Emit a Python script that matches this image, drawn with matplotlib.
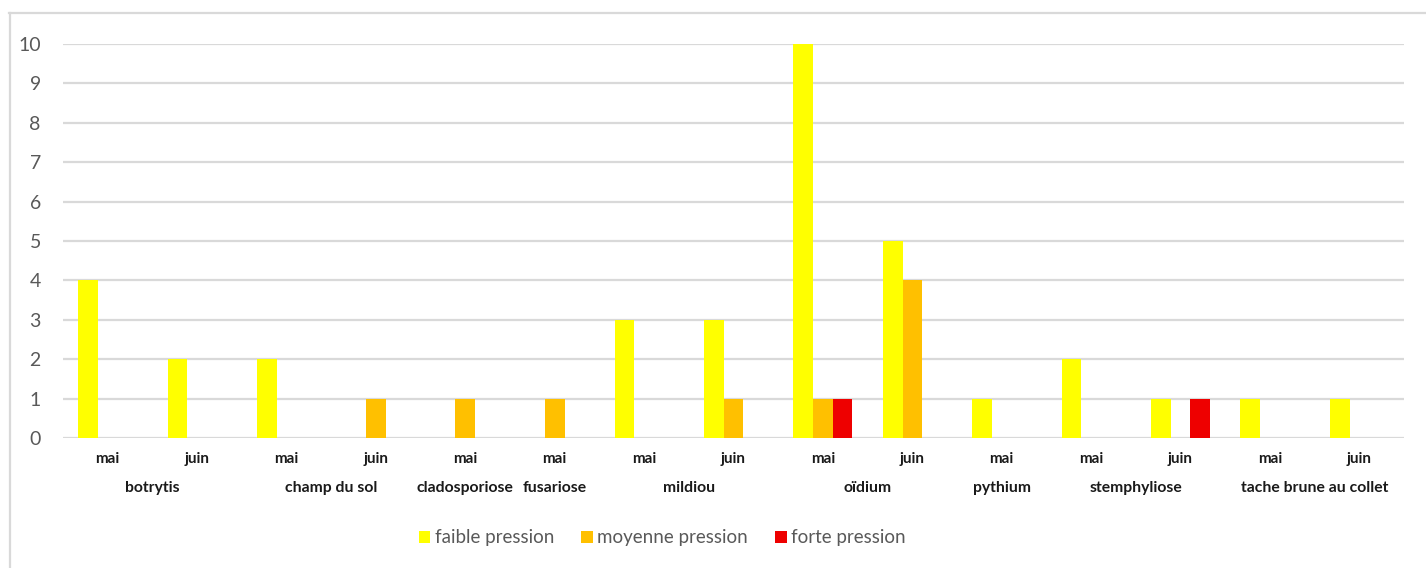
import numpy as np
import matplotlib.pyplot as plt
from matplotlib.lines import Line2D
from matplotlib.transforms import blended_transform_factory

plt.rcParams['font.family'] = ['Lato', 'DejaVu Sans']

# one slot per disease / month
diseases = ['botrytis', 'botrytis', 'champ du sol', 'champ du sol',
            'cladosporiose', 'fusariose', 'mildiou', 'mildiou',
            'oïdium', 'oïdium', 'pythium', 'stemphyliose', 'stemphyliose',
            'tache brune au collet', 'tache brune au collet']
months = ['mai', 'juin', 'mai', 'juin', 'mai', 'mai', 'mai', 'juin',
          'mai', 'juin', 'mai', 'mai', 'juin', 'mai', 'juin']

faible = [4, 2, 2, 0, 0, 0, 3, 3, 10, 5, 1, 2, 1, 1, 1]
moyenne = [0, 0, 0, 1, 1, 1, 0, 1, 1, 4, 0, 0, 0, 0, 0]
forte = [0, 0, 0, 0, 0, 0, 0, 0, 1, 0, 0, 0, 1, 0, 0]

series = [('faible pression', faible, '#FFFF00'),
          ('moyenne pression', moyenne, '#FFC000'),
          ('forte pression', forte, '#EE0000')]

fig = plt.figure(figsize=(14.26, 5.68), dpi=100)
ax = fig.add_axes([0.0442, 0.2289, 0.9404, 0.6936])

x = np.arange(len(months))
width = 0.22
for i, (name, vals, col) in enumerate(series):
    ax.bar(x + (i - 1) * width, vals, width, color=col, label=name, zorder=3)

ax.set_xlim(-0.5, len(months) - 0.5)
ax.set_ylim(0, 10)
ax.set_yticks(range(0, 11))
ax.yaxis.grid(True, color='#D9D9D9', lw=1.6, zorder=0)
for s in ax.spines.values():
    s.set_visible(False)
ax.tick_params(axis='y', length=0, labelsize=14, labelcolor='#595959', pad=16)
ax.set_xticks(x)
ax.set_xticklabels(months, fontsize=11, fontweight='bold', color='#1a1a1a')
ax.tick_params(axis='x', length=0, pad=10)

# disease names centred under their month groups
trans = blended_transform_factory(ax.transData, ax.transAxes)
start = 0
for j in range(1, len(diseases) + 1):
    if j == len(diseases) or diseases[j] != diseases[start]:
        ax.text((start + j - 1) / 2, -0.128, diseases[start], transform=trans,
                ha='center', va='center', fontsize=11.3, fontweight='bold',
                color='#1a1a1a')
        start = j

leg = fig.legend(loc='center', bbox_to_anchor=(0.4645, 0.053), ncol=3,
                 frameon=False, fontsize=13.5, handlelength=0.6, handleheight=0.6,
                 handletextpad=0.25, columnspacing=1.45, labelcolor='#595959')

# outer frame (top and left edges)
fig.add_artist(Line2D([9 / 1426, 1], [1 - 13 / 568] * 2, color='#D9D9D9',
                      lw=1.6, transform=fig.transFigure))
fig.add_artist(Line2D([9.5 / 1426] * 2, [0, 1 - 13 / 568], color='#D9D9D9',
                      lw=1.6, transform=fig.transFigure))

fig.savefig('out.png', dpi=100)
